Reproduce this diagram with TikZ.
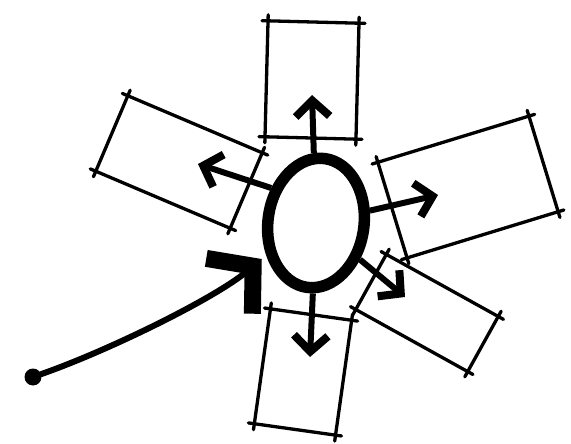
\documentclass[tikz,border=0pt]{standalone}
\usepackage{tikz}
\usetikzlibrary{arrows.meta, shapes.geometric}

\begin{document}
\begin{tikzpicture}[
  x=1pt, y=-1pt,
  core/.style={ellipse, draw, line width=11.5pt, inner sep=0pt,
               minimum width=96pt, minimum height=130pt},
  room/.style={rectangle, inner sep=0pt, outer sep=0pt},
  wall/.style={line width=3.3pt, line cap=round,
               shorten <=-6pt, shorten >=-6pt},
  spoke/.style={line width=6pt,
                -{Straight Barb[length=16pt, width=34pt, line width=8pt]}},
  entry/.style={line width=6pt, line cap=round,
                -{Straight Barb[length=31pt, width=72pt, line width=17pt, sep=-14pt]}}
]
  \useasboundingbox (0,0) rectangle (571,444);

  \node[core, rotate=-8] (hall) at (316,223) {};

  \node[room, minimum width=91pt, minimum height=116pt, rotate=-1.5] (roomN) at (312,80) {};
  \node[room, minimum width=146pt, minimum height=82pt, rotate=-23] (roomW) at (179,162) {};
  \node[room, minimum width=158pt, minimum height=100pt, rotate=17] (roomE) at (468,187) {};
  \node[room, minimum width=128pt, minimum height=63pt, rotate=-29] (roomSE) at (427,313) {};
  \node[room, minimum width=82pt, minimum height=116pt, rotate=-8] (roomS) at (303,372) {};

  % outlines, corners crossed like the sketch
  \foreach \r in {roomN, roomW, roomE, roomSE, roomS}
    \foreach \a/\b in {north west/north east, north east/south east,
                       south east/south west, south west/north west}
      \draw[wall] (\r.\a) -- (\r.\b);

  \coordinate (tipN) at (312,95);
  \coordinate (tipW) at (198,164);
  \coordinate (tipE) at (438,195);
  \coordinate (tipSE) at (405,297);
  \coordinate (tipS) at (310,357);

  \draw[spoke] (hall) -- (tipN);
  \draw[spoke] (hall.150) -- (tipW);
  \draw[spoke] (hall) -- (tipE);
  \draw[spoke] (hall) -- (tipSE);
  \draw[spoke] (hall) -- (tipS);

  % way in
  \node[circle, fill, inner sep=0pt, minimum size=17pt] (door) at (33,377) {};
  \coordinate (gate) at (251,268);
  \draw[entry] (door) .. controls (110,350) and (215,298) .. (gate);
\end{tikzpicture}
\end{document}
